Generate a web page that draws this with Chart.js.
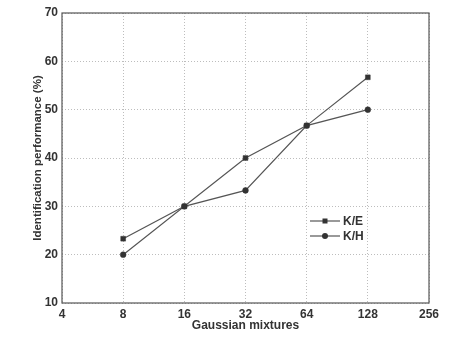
<!DOCTYPE html>
<html>
<head>
<meta charset="utf-8">
<script src="https://cdn.jsdelivr.net/npm/chart.js@4.4.1/dist/chart.umd.min.js"></script>
<style>
  html, body { margin: 0; padding: 0; background: #fff; }
  #wrap { width: 454px; height: 342px; }
</style>
</head>
<body>
<div id="wrap"><canvas id="chart" width="454" height="342"></canvas></div>
<script>
// values
const mixtures = [8, 16, 32, 64, 128];
const keValues = [23.3, 30, 40, 46.7, 56.7];
const khValues = [20, 30, 33.3, 46.7, 50];
const xTicks = [4, 8, 16, 32, 64, 128, 256];
const yTicks = [10, 20, 30, 40, 50, 60, 70];

const lineColor = '#555';
const markColor = '#333';
const fontFamily = 'Liberation Sans, Arial, sans-serif';
const tickFont = { family: fontFamily, size: 12, weight: 'bold' };

function toPoints(xs, ys) {
  return xs.map((x, i) => ({ x: x, y: ys[i] }));
}

// box round the plot and the legend inside it
const boxAndLegend = {
  id: 'boxAndLegend',
  afterDraw(chart) {
    const ctx = chart.ctx;
    const a = chart.chartArea;
    ctx.save();
    ctx.strokeStyle = lineColor;
    ctx.lineWidth = 1.2;
    ctx.strokeRect(a.left, a.top, a.right - a.left, a.bottom - a.top);

    const lx = a.left + 248, ly = a.top + 208;
    chart.data.datasets.forEach((ds, i) => {
      const y = ly + i * 15;
      ctx.strokeStyle = ds.borderColor;
      ctx.lineWidth = ds.borderWidth;
      ctx.beginPath();
      ctx.moveTo(lx, y);
      ctx.lineTo(lx + 30, y);
      ctx.stroke();
      ctx.fillStyle = markColor;
      ctx.beginPath();
      if (ds.pointStyle === 'rect') {
        ctx.rect(lx + 12.5, y - 2.5, 5, 5);
      } else {
        ctx.arc(lx + 15, y, 3, 0, Math.PI * 2);
      }
      ctx.fill();
      ctx.fillStyle = '#333';
      ctx.font = 'bold 12px ' + fontFamily;
      ctx.textBaseline = 'middle';
      ctx.fillText(ds.label, lx + 33, y + 1);
    });
    ctx.restore();
  }
};

new Chart(document.getElementById('chart'), {
  type: 'line',
  data: {
    datasets: [
      {
        label: 'K/E',
        data: toPoints(mixtures, keValues),
        borderColor: lineColor,
        borderWidth: 1.2,
        pointStyle: 'rect',
        pointRadius: 3.4,
        pointBorderWidth: 0.5,
        pointBackgroundColor: markColor,
        pointBorderColor: markColor,
        tension: 0
      },
      {
        label: 'K/H',
        data: toPoints(mixtures, khValues),
        borderColor: lineColor,
        borderWidth: 1.2,
        pointStyle: 'circle',
        pointRadius: 2.9,
        pointBorderWidth: 0.5,
        pointBackgroundColor: markColor,
        pointBorderColor: markColor,
        tension: 0
      }
    ]
  },
  options: {
    responsive: false,
    animation: false,
    layout: { padding: { top: 13, right: 25, left: 0, bottom: 0 } },
    plugins: {
      legend: { display: false },
      tooltip: { enabled: false }
    },
    scales: {
      x: {
        type: 'logarithmic',
        min: 4,
        max: 256,
        afterBuildTicks(scale) {
          scale.ticks = xTicks.map(v => ({ value: v }));
        },
        afterFit(scale) { scale.height = 39; },
        grid: { color: '#bdbdbd', drawTicks: false },
        border: { display: false, dash: [1, 2] },
        ticks: {
          color: '#333',
          font: tickFont,
          padding: 4,
          maxRotation: 0,
          autoSkip: false,
          callback: v => String(v)
        },
        title: {
          display: true,
          text: 'Gaussian mixtures',
          color: '#333',
          font: { family: fontFamily, size: 12, weight: 'bold' },
          padding: { top: 0, bottom: 9 }
        }
      },
      y: {
        min: 10,
        max: 70,
        afterBuildTicks(scale) {
          scale.ticks = yTicks.map(v => ({ value: v }));
        },
        afterFit(scale) { scale.width = 62; },
        grid: { color: '#bdbdbd', drawTicks: false },
        border: { display: false, dash: [1, 2] },
        ticks: {
          color: '#333',
          font: tickFont,
          padding: 4
        },
        title: {
          display: true,
          text: 'Identification performance (%)',
          color: '#333',
          font: { family: fontFamily, size: 11.5, weight: 'bold' },
          padding: { top: 31, bottom: 0 }
        }
      }
    }
  },
  plugins: [boxAndLegend]
});
</script>
</body>
</html>
